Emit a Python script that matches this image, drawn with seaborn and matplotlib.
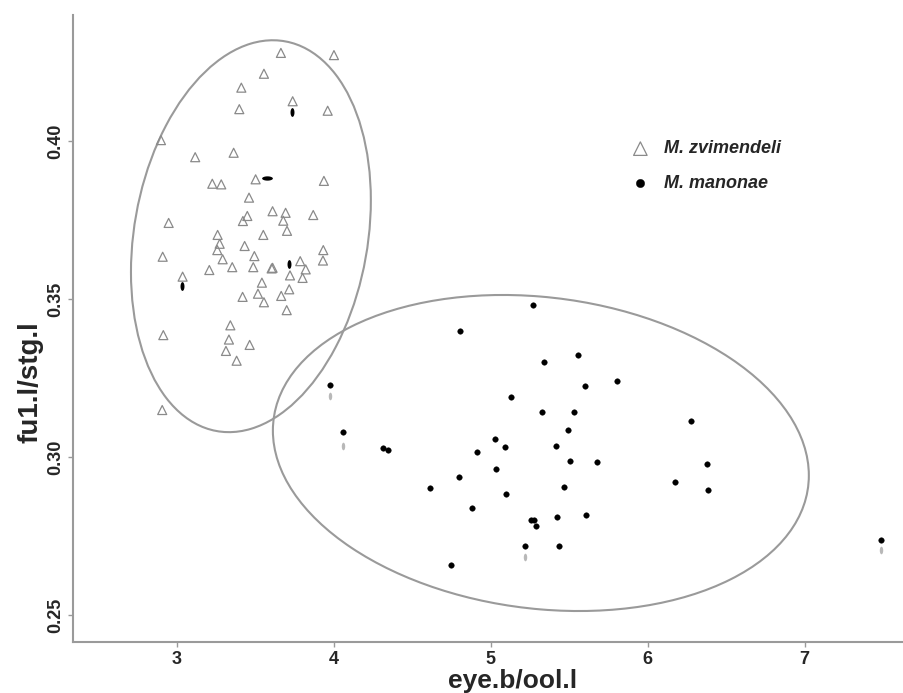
import numpy as np
import pandas as pd
import seaborn as sns
import matplotlib
matplotlib.use("Agg")
import matplotlib.pyplot as plt
from matplotlib.patches import Ellipse

# ----------------------------------------------------
# data
# ----------------------------------------------------
zvi_x = [3.664, 4.002, 3.556, 3.412, 3.739, 3.399, 3.962, 2.900, 3.118, 3.363,
         3.503, 3.938, 3.227, 3.284, 3.461, 2.949, 3.611, 3.694, 3.870, 3.450,
         3.422, 3.679, 3.703, 3.261, 3.552, 3.274, 3.259, 3.433, 2.911, 3.495,
         3.934, 3.932, 3.293, 3.787, 3.354, 3.488, 3.611, 3.605, 3.208, 3.822,
         3.722, 3.802, 3.038, 3.543, 3.717, 3.518, 3.666, 3.420, 3.556, 3.701,
         3.342, 2.915, 3.333, 3.465, 3.314, 3.382, 2.908]
zvi_y = [0.4279, 0.4272, 0.4213, 0.4169, 0.4126, 0.4101, 0.4096, 0.4003, 0.3949, 0.3963,
         0.3879, 0.3874, 0.3865, 0.3863, 0.3821, 0.3741, 0.3778, 0.3773, 0.3766, 0.3763,
         0.3747, 0.3748, 0.3716, 0.3703, 0.3703, 0.3675, 0.3655, 0.3668, 0.3634, 0.3636,
         0.3655, 0.3622, 0.3626, 0.3620, 0.3601, 0.3601, 0.3599, 0.3597, 0.3592, 0.3594,
         0.3575, 0.3567, 0.3571, 0.3552, 0.3531, 0.3517, 0.3510, 0.3507, 0.3490, 0.3465,
         0.3417, 0.3386, 0.3372, 0.3355, 0.3336, 0.3305, 0.3149]

man_x = [5.271, 4.804, 5.338, 3.978, 5.129, 5.325, 4.059, 5.027, 5.093, 4.314,
         4.346, 4.915, 5.032, 4.798, 4.616, 5.097, 4.879, 5.257, 5.276, 5.290,
         5.220, 4.745, 5.558, 5.806, 5.601, 5.533, 6.274, 5.492, 5.414, 5.503,
         5.677, 6.378, 6.176, 6.386, 5.465, 5.422, 5.607, 5.435, 7.488]
man_y = [0.3482, 0.3400, 0.3302, 0.3228, 0.3189, 0.3144, 0.3079, 0.3057, 0.3032, 0.3028,
         0.3021, 0.3016, 0.2962, 0.2938, 0.2902, 0.2882, 0.2838, 0.2801, 0.2800, 0.2781,
         0.2718, 0.2658, 0.3322, 0.3241, 0.3224, 0.3144, 0.3115, 0.3086, 0.3035, 0.2988,
         0.2983, 0.2979, 0.2921, 0.2896, 0.2905, 0.2812, 0.2816, 0.2718, 0.2738]

# black elongated marks inside the upper ellipse
vbar_x = [3.736, 3.715, 3.036]
vbar_y = [0.4092, 0.3611, 0.3540]
hbar_x = [3.575]
hbar_y = [0.3883]

# faint grey marks below some dots
ghost_x = [3.978, 4.061, 5.220, 7.488]
ghost_y = [0.3193, 0.3036, 0.2683, 0.2707]

# ellipses: centre, sd x, sd y, correlation
ell_upper = (3.473, 0.3699, 0.764, 0.0620, 0.183)
ell_lower = (5.320, 0.3013, 1.707, 0.0500, -0.142)

species = ["M. zvimendeli", "M. manonae"]

zvi = pd.DataFrame({"x": zvi_x, "y": zvi_y})
man = pd.DataFrame({"x": man_x, "y": man_y})

# ----------------------------------------------------
# plot
# ----------------------------------------------------
sns.set_style("white")
plt.rcParams["font.family"] = ["Liberation Sans", "DejaVu Sans"]

fig = plt.figure(figsize=(9.04, 6.93), dpi=100)
ax = fig.add_axes([0.0808, 0.0736, 0.919, 0.9048])

t = np.linspace(0, 2 * np.pi, 40)
vmark = np.column_stack([0.45 * np.cos(t), np.sin(t)])
hmark = np.column_stack([np.cos(t), 0.4 * np.sin(t)])


def add_ellipse(ax, spec):
    cx, cy, sx, sy, rho = spec
    cov = np.array([[sx ** 2, rho * sx * sy], [rho * sx * sy, sy ** 2]])
    vals, vecs = np.linalg.eigh(cov)
    angle = np.degrees(np.arctan2(vecs[1, 1], vecs[0, 1]))
    ax.add_patch(Ellipse((cx, cy), 2 * np.sqrt(vals[1]), 2 * np.sqrt(vals[0]),
                         angle=angle, fill=False, edgecolor="#9a9a9a", lw=1.5))


add_ellipse(ax, ell_upper)
add_ellipse(ax, ell_lower)

sns.scatterplot(data=zvi, x="x", y="y", ax=ax, marker="^", s=42,
                facecolor="none", edgecolor="#8a8a8a", linewidth=0.9,
                label=species[0])
sns.scatterplot(data=man, x="x", y="y", ax=ax, marker="o", s=16,
                color="black", edgecolor="black", linewidth=0.3,
                label=species[1])
sns.scatterplot(x=vbar_x, y=vbar_y, ax=ax, marker=vmark, s=40,
                color="black", edgecolor="black", linewidth=0)
sns.scatterplot(x=hbar_x, y=hbar_y, ax=ax, marker=hmark, s=60,
                color="black", edgecolor="black", linewidth=0)
sns.scatterplot(x=ghost_x, y=ghost_y, ax=ax, marker=vmark, s=30,
                color="#b8b8b8", edgecolor="#b8b8b8", linewidth=0)

ax.set_xlim(2.34, 7.632)
ax.set_ylim(0.2415, 0.4399)
ax.set_xticks([3, 4, 5, 6, 7])
ax.set_yticks([0.25, 0.30, 0.35, 0.40])
ax.set_yticklabels(["0.25", "0.30", "0.35", "0.40"], rotation=90, va="center")

for side in ["top", "right"]:
    ax.spines[side].set_visible(False)
for side in ["left", "bottom"]:
    ax.spines[side].set_color("#9a9a9a")
    ax.spines[side].set_linewidth(1.5)

ax.tick_params(axis="both", length=3.5, width=1, color="#9a9a9a",
               labelsize=13, pad=3, left=True, bottom=True)
for lab in ax.get_xticklabels() + ax.get_yticklabels():
    lab.set_fontweight("bold")

ax.set_xlabel("eye.b/ool.l", fontsize=19, fontweight="bold", va="baseline")
ax.set_ylabel("fu1.l/stg.l", fontsize=20, fontweight="bold")
ax.xaxis.set_label_coords(0.529, -0.074)
ax.yaxis.set_label_coords(-0.036, 0.415)

leg = ax.legend(loc="upper left", bbox_to_anchor=(0.672, 0.80), frameon=False,
                borderaxespad=0, borderpad=0, handlelength=1.0,
                handletextpad=0.8, labelspacing=0.95, markerscale=1.5,
                prop={"size": 13, "weight": "bold", "style": "italic"})

plt.savefig("out.png", dpi=100)
